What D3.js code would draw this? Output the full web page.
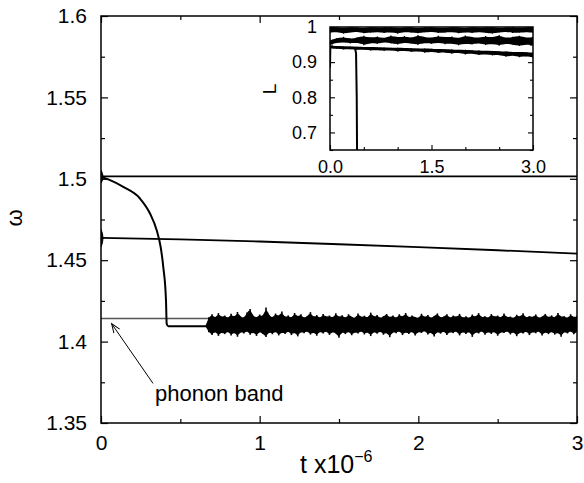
<!DOCTYPE html>
<html>
<head>
<meta charset="utf-8">
<script src="https://cdn.jsdelivr.net/npm/d3@7"></script>
<style>
  body { margin: 0; background: #fff; }
  text { font-family: "Liberation Sans", Arial, sans-serif; fill: #000; }
</style>
</head>
<body>
<div id="chart"></div>
<script>
// main panel: omega vs t (units of 10^6)
let tTicks = [0, 1, 2, 3];
let tMinor = [0.5, 1.5, 2.5];
let wTicks = [1.35, 1.4, 1.45, 1.5, 1.55, 1.6];
let wMinor = [1.375, 1.425, 1.475, 1.525, 1.575];

let upperT = [0, 3];
let upperW = [1.5015, 1.5015];

let midT = [0, 0.5, 1, 1.5, 2, 2.5, 3];
let midW = [1.4637, 1.4628, 1.4615, 1.4598, 1.4580, 1.4561, 1.4540];

let decayT = [0, 0.05, 0.1405, 0.2457, 0.3088, 0.351, 0.376, 0.3926, 0.4096, 0.414, 0.424, 0.66];
let decayW = [1.5012, 1.4995, 1.4950, 1.4879, 1.4787, 1.4684, 1.4581, 1.4458, 1.4253, 1.4110, 1.4094, 1.4094];

let phononW = 1.4142;

// start-up transients at t = 0
let blobLo = [1.4973, 1.4581];
let blobHi = [1.5053, 1.4690];

// noisy envelope after the drop, sampled every 0.02 from t = 0.66
let noiseT0 = 0.66, noiseDt = 0.02;
let noiseHi = [1.4100,1.4150,1.4168,1.4142,1.4175,1.4150,1.4160,1.4141,1.4171,1.4147,
  1.4182,1.4153,1.4143,1.4178,1.4201,1.4156,1.4146,1.4166,1.4150,1.4210,
  1.4161,1.4144,1.4172,1.4153,1.4185,1.4147,1.4161,1.4142,1.4176,1.4151,
  1.4168,1.4143,1.4156,1.4181,1.4148,1.4163,1.4141,1.4170,1.4150,1.4160,
  1.4144,1.4174,1.4149,1.4162,1.4142,1.4168,1.4152,1.4141,1.4172,1.4148,
  1.4159,1.4143,1.4178,1.4150,1.4163,1.4142,1.4155,1.4170,1.4146,1.4161,
  1.4141,1.4168,1.4149,1.4176,1.4144,1.4160,1.4151,1.4141,1.4171,1.4148,
  1.4164,1.4143,1.4156,1.4173,1.4146,1.4153,1.4168,1.4142,1.4160,1.4150,
  1.4170,1.4144,1.4155,1.4141,1.4166,1.4149,1.4175,1.4146,1.4156,1.4142,
  1.4169,1.4151,1.4160,1.4143,1.4172,1.4148,1.4154,1.4141,1.4165,1.4150,
  1.4174,1.4144,1.4157,1.4149,1.4167,1.4142,1.4153,1.4170,1.4146,1.4161,
  1.4143,1.4176,1.4150,1.4156,1.4141,1.4168,1.4149,1.4155];
let noiseLo = [1.4090,1.4058,1.4040,1.4064,1.4035,1.4058,1.4046,1.4066,1.4038,1.4060,
  1.4030,1.4062,1.4050,1.4068,1.4042,1.4060,1.4035,1.4063,1.4048,1.4028,
  1.4061,1.4045,1.4065,1.4038,1.4058,1.4047,1.4067,1.4040,1.4059,1.4032,
  1.4062,1.4051,1.4066,1.4043,1.4060,1.4036,1.4064,1.4049,1.4067,1.4041,
  1.4060,1.4052,1.4024,1.4062,1.4046,1.4065,1.4039,1.4059,1.4050,1.4067,
  1.4044,1.4061,1.4034,1.4063,1.4048,1.4066,1.4042,1.4058,1.4027,1.4062,
  1.4051,1.4067,1.4040,1.4060,1.4047,1.4065,1.4037,1.4061,1.4053,1.4068,
  1.4043,1.4059,1.4031,1.4063,1.4049,1.4066,1.4041,1.4060,1.4052,1.4067,
  1.4038,1.4062,1.4046,1.4065,1.4029,1.4059,1.4050,1.4067,1.4042,1.4061,
  1.4047,1.4064,1.4036,1.4060,1.4053,1.4067,1.4044,1.4062,1.4033,1.4059,
  1.4049,1.4066,1.4040,1.4060,1.4051,1.4067,1.4037,1.4061,1.4046,1.4064,
  1.4043,1.4059,1.4030,1.4063,1.4050,1.4066,1.4045,1.4060];

// inset: L vs t, sampled every 0.1
let inTTicks = [0, 1.5, 3];
let inTMinor = [0.5, 1, 2, 2.5];
let inLTicks = [0.7, 0.8, 0.9, 1.0];
let inLMinor = [0.65, 0.75, 0.85, 0.95];

let inDt = 0.1;
let topHi = [0.998,1.0,0.997,1.0,0.999,0.996,1.0,0.998,0.999,1.0,0.997,0.999,1.0,0.996,0.999,1.0,0.998,0.997,1.0,0.999,0.996,1.0,0.998,0.999,1.0,0.997,0.999,1.0,0.998,0.999,1.0];
let topLo = [0.984,0.986,0.981,0.985,0.987,0.982,0.984,0.986,0.983,0.985,0.981,0.986,0.984,0.982,0.985,0.987,0.983,0.984,0.986,0.982,0.985,0.983,0.986,0.984,0.981,0.985,0.987,0.983,0.984,0.986,0.984];
let midHi = [0.962,0.968,0.972,0.966,0.970,0.975,0.969,0.973,0.967,0.976,0.970,0.974,0.968,0.977,0.971,0.969,0.975,0.970,0.973,0.967,0.976,0.971,0.969,0.974,0.970,0.977,0.968,0.972,0.975,0.969,0.971];
let midLo = [0.950,0.955,0.957,0.953,0.956,0.948,0.955,0.952,0.957,0.954,0.950,0.956,0.953,0.949,0.955,0.952,0.956,0.951,0.954,0.948,0.953,0.950,0.955,0.949,0.952,0.947,0.953,0.950,0.946,0.951,0.948];
let lowHi = [0.946,0.945,0.945,0.944,0.944,0.943,0.943,0.942,0.942,0.941,0.941,0.940,0.940,0.939,0.939,0.938,0.937,0.937,0.936,0.935,0.935,0.934,0.933,0.932,0.932,0.931,0.930,0.929,0.929,0.928,0.927];
let lowLo = [0.939,0.938,0.936,0.937,0.935,0.936,0.933,0.935,0.932,0.934,0.930,0.933,0.929,0.931,0.927,0.930,0.926,0.928,0.924,0.927,0.922,0.925,0.920,0.923,0.919,0.921,0.915,0.920,0.914,0.917,0.913];

let fallT = [0, 0.005, 0.1, 0.2, 0.3, 0.37, 0.385, 0.395, 0.40];
let fallL = [0.885, 0.944, 0.943, 0.942, 0.941, 0.940, 0.925, 0.80, 0.64];

let width = 584, height = 483;

let svg = d3.select("#chart").append("svg")
  .attr("width", width)
  .attr("height", height);

let x = d3.scaleLinear().domain([0, 3]).range([101, 577]);
let y = d3.scaleLinear().domain([1.35, 1.6]).range([423, 16]);

svg.append("clipPath").attr("id", "clipMain")
  .append("rect").attr("x", 101).attr("y", 16).attr("width", 476).attr("height", 407);

let plot = svg.append("g").attr("clip-path", "url(#clipMain)");

// phonon band edge
plot.append("line")
  .attr("x1", x(0)).attr("x2", x(3))
  .attr("y1", y(phononW)).attr("y2", y(phononW))
  .attr("stroke", "#555").attr("stroke-width", 1.3);

let line = d3.line().x(d => x(d[0])).y(d => y(d[1]));

plot.append("path")
  .datum(d3.zip(upperT, upperW))
  .attr("d", line).attr("fill", "none").attr("stroke", "#000").attr("stroke-width", 1.8);

plot.append("path")
  .datum(d3.zip(midT, midW))
  .attr("d", line).attr("fill", "none").attr("stroke", "#000").attr("stroke-width", 1.8);

plot.append("path")
  .datum(d3.zip(decayT, decayW))
  .attr("d", line.curve(d3.curveMonotoneX)).attr("fill", "none").attr("stroke", "#000").attr("stroke-width", 2);

// noisy region: smoothed core plus one spike per sample
function noisy(g, pts, sx, sy, spikeWidth) {
  g.append("path")
    .datum(pts)
    .attr("d", d3.area().curve(d3.curveBasis).x(d => sx(d[0])).y0(d => sy(d[1])).y1(d => sy(d[2])))
    .attr("fill", "#000");
  g.selectAll(null)
    .data(pts)
    .enter().append("line")
    .attr("x1", d => sx(d[0])).attr("x2", d => sx(d[0]))
    .attr("y1", d => sy(d[1])).attr("y2", d => sy(d[2]))
    .attr("stroke", "#000").attr("stroke-width", spikeWidth);
}

let noise = noiseHi.map((h, i) => [noiseT0 + i * noiseDt, noiseLo[i], h]);
noisy(plot, noise, x, y, 1.6);

// transients at t = 0
blobLo.forEach(function(lo, i) {
  plot.append("path")
    .attr("d", "M" + x(0) + "," + y(lo) + "Q" + (x(0) + 4) + "," + y((lo + blobHi[i]) / 2) + " " + x(0) + "," + y(blobHi[i]) + "Z")
    .attr("fill", "#000").attr("stroke", "#000").attr("stroke-width", 1);
});

// axes, inward ticks on all sides
function styleAxis(g) {
  g.select(".domain").remove();
  g.selectAll("text").style("font-size", "21px").style("font-family", "Liberation Sans, Arial, sans-serif");
  g.selectAll("line").attr("stroke", "#000").attr("stroke-width", 1.2);
}

svg.append("g").attr("transform", "translate(0,423)")
  .call(d3.axisBottom(x).tickValues(tTicks).tickFormat(d3.format("d")).tickSize(-7).tickPadding(12))
  .call(styleAxis);
svg.append("g").attr("transform", "translate(0,423)")
  .call(d3.axisBottom(x).tickValues(tMinor).tickFormat("").tickSize(-4))
  .call(styleAxis);
svg.append("g").attr("transform", "translate(0,16)")
  .call(d3.axisTop(x).tickValues(tTicks).tickFormat("").tickSize(-7))
  .call(styleAxis);
svg.append("g").attr("transform", "translate(0,16)")
  .call(d3.axisTop(x).tickValues(tMinor).tickFormat("").tickSize(-4))
  .call(styleAxis);

svg.append("g").attr("transform", "translate(101,0)")
  .call(d3.axisLeft(y).tickValues(wTicks).tickFormat(d => String(+d.toFixed(2))).tickSize(-7).tickPadding(14))
  .call(styleAxis);
svg.append("g").attr("transform", "translate(101,0)")
  .call(d3.axisLeft(y).tickValues(wMinor).tickFormat("").tickSize(-4))
  .call(styleAxis);
svg.append("g").attr("transform", "translate(577,0)")
  .call(d3.axisRight(y).tickValues(wTicks).tickFormat("").tickSize(-7))
  .call(styleAxis);
svg.append("g").attr("transform", "translate(577,0)")
  .call(d3.axisRight(y).tickValues(wMinor).tickFormat("").tickSize(-4))
  .call(styleAxis);

svg.append("rect")
  .attr("x", 101).attr("y", 16).attr("width", 476).attr("height", 407)
  .attr("fill", "none").attr("stroke", "#000").attr("stroke-width", 1.5);

// axis titles
svg.append("text")
  .attr("transform", "translate(22,218) rotate(-90)")
  .attr("text-anchor", "middle")
  .style("font-size", "22px")
  .text("ω");

let xt = svg.append("text")
  .attr("x", 300).attr("y", 473)
  .style("font-size", "25px");
xt.append("tspan").text("t x10");
xt.append("tspan").attr("dy", -11).style("font-size", "16px").text("−6");

// annotation
let arrowTip = [0.067, 1.411], arrowTail = [0.328, 1.3743];
svg.append("defs").append("marker")
  .attr("id", "arr").attr("viewBox", "-10 -5 12 10")
  .attr("refX", 0).attr("refY", 0)
  .attr("markerWidth", 12).attr("markerHeight", 10)
  .attr("markerUnits", "userSpaceOnUse")
  .attr("orient", "auto")
  .append("path").attr("d", "M-9,-3.5L0,0L-9,3.5")
  .attr("fill", "none").attr("stroke", "#000").attr("stroke-width", 1);
svg.append("line")
  .attr("x1", x(arrowTail[0])).attr("y1", y(arrowTail[1]))
  .attr("x2", x(arrowTip[0])).attr("y2", y(arrowTip[1]))
  .attr("stroke", "#000").attr("stroke-width", 1)
  .attr("marker-end", "url(#arr)");
svg.append("text")
  .attr("x", x(0.34)).attr("y", 401)
  .style("font-size", "22px")
  .text("phonon band");

// ---- inset ----
let ix = d3.scaleLinear().domain([0, 3]).range([330, 533]);
let iy = d3.scaleLinear().domain([0.65, 1.0]).range([150, 27]);

svg.append("clipPath").attr("id", "clipInset")
  .append("rect").attr("x", 330).attr("y", 27).attr("width", 203).attr("height", 123);

let inset = svg.append("g").attr("clip-path", "url(#clipInset)");

function band(hi, lo) {
  let pts = hi.map((h, i) => [i * inDt, lo[i], h]);
  noisy(inset, pts, ix, iy, 1.3);
}
band(topHi, topLo);
band(midHi, midLo);
band(lowHi, lowLo);

inset.append("path")
  .datum(d3.zip(fallT, fallL))
  .attr("d", d3.line().x(d => ix(d[0])).y(d => iy(d[1])))
  .attr("fill", "none").attr("stroke", "#000").attr("stroke-width", 2);

function styleInset(g) {
  g.select(".domain").remove();
  g.selectAll("text").style("font-size", "18px").style("font-family", "Liberation Sans, Arial, sans-serif");
  g.selectAll("line").attr("stroke", "#000").attr("stroke-width", 1.1);
}

svg.append("g").attr("transform", "translate(0,150)")
  .call(d3.axisBottom(ix).tickValues(inTTicks).tickFormat(d3.format(".1f")).tickSize(-5).tickPadding(10))
  .call(styleInset);
svg.append("g").attr("transform", "translate(0,150)")
  .call(d3.axisBottom(ix).tickValues(inTMinor).tickFormat("").tickSize(-3))
  .call(styleInset);
svg.append("g").attr("transform", "translate(330,0)")
  .call(d3.axisLeft(iy).tickValues(inLTicks).tickFormat(d => d === 1 ? "1" : d.toFixed(1)).tickSize(-5).tickPadding(13))
  .call(styleInset);
svg.append("g").attr("transform", "translate(330,0)")
  .call(d3.axisLeft(iy).tickValues(inLMinor).tickFormat("").tickSize(-3))
  .call(styleInset);
svg.append("g").attr("transform", "translate(533,0)")
  .call(d3.axisRight(iy).tickValues(inLTicks).tickFormat("").tickSize(-5))
  .call(styleInset);
svg.append("g").attr("transform", "translate(533,0)")
  .call(d3.axisRight(iy).tickValues(inLMinor).tickFormat("").tickSize(-3))
  .call(styleInset);

svg.append("rect")
  .attr("x", 330).attr("y", 27).attr("width", 203).attr("height", 123)
  .attr("fill", "none").attr("stroke", "#000").attr("stroke-width", 1.5);

svg.append("text")
  .attr("transform", "translate(276,89) rotate(-90)")
  .attr("text-anchor", "middle")
  .style("font-size", "19px")
  .text("L");
</script>
</body>
</html>
